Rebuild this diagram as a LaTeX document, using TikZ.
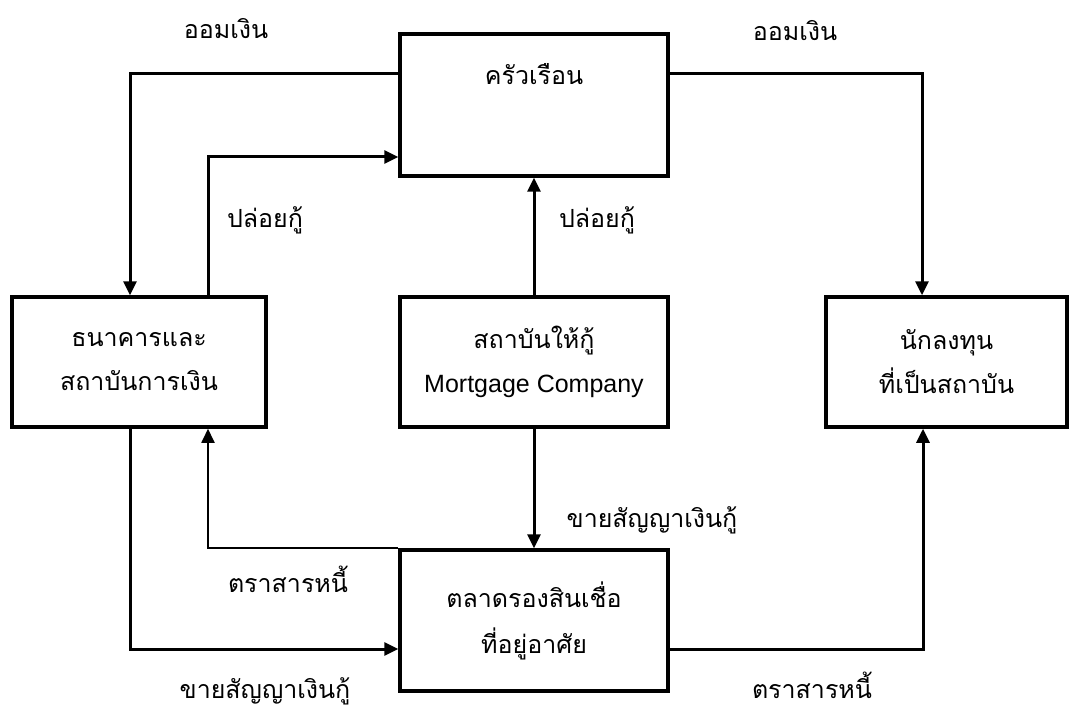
\documentclass[tikz,border=0pt]{standalone}
\usepackage{fontspec}
\setmainfont{Liberation Sans}
\newfontfamily\thaifont[Script=Thai]{Loma}
\usetikzlibrary{arrows.meta}
\begin{document}
\begin{tikzpicture}[x=1pt,y=-1pt,
  box/.style={draw, line width=3.5pt, align=center, inner sep=0pt, font=\thaifont\fontsize{25}{44}\selectfont},
  conn/.style={line width=3pt, -{Triangle[length=14pt,width=13pt]}},
  thinconn/.style={line width=1.8pt, -{Triangle[length=14pt,width=13pt]}},
  lbl/.style={font=\thaifont\fontsize{25}{30}\selectfont, inner sep=0pt}]
\path[use as bounding box, fill=white] (0,0) rectangle (1075,711);
% boxes
\node[box, minimum width=268pt, minimum height=142pt] (H) at (534,105) {};
\node[lbl] (Ht) at (534,74) {ครัวเรือน};
\node[box, minimum width=254pt, minimum height=130pt] (B) at (139,362) {ธนาคารและ\\สถาบันการเงิน};
\node[box, minimum width=268pt, minimum height=130pt] (M) at (534,362) {สถาบันให้กู้\\{\normalfont Mortgage Company}};
\node[box, minimum width=241pt, minimum height=130pt] (I) at (946.5,362) {นักลงทุน\\ที่เป็นสถาบัน};
\node[box, minimum width=268pt, minimum height=141pt, font=\thaifont\fontsize{25}{46}\selectfont] (S) at (534,620.5) {ตลาดรองสินเชื่อ\\ที่อยู่อาศัย};
% connectors
\draw[conn] ([yshift=31pt]H.west) -| ([xshift=-9pt]B.north);
\draw[conn] ([xshift=69pt]B.north) |- ([yshift=-52pt]H.west);
\draw[conn] (M.north) -- (H.south);
\draw[conn] ([yshift=31pt]H.east) -| ([xshift=-24.5pt]I.north);
\draw[conn] (M.south) -- (S.north);
\draw[thinconn] (S.north west) -| ([xshift=69pt]B.south);
\draw[conn] ([xshift=-9pt]B.south) |- ([yshift=-28.5pt]S.west);
\draw[conn] ([yshift=-28.5pt]S.east) -| ([xshift=-23.5pt]I.south);
% labels
\node[lbl] (l1) at (226,29) {ออมเงิน};
\node[lbl] (l2) at (795,31) {ออมเงิน};
\node[lbl] (l3) at (265,220) {ปล่อยกู้};
\node[lbl] (l4) at (597,220) {ปล่อยกู้};
\node[lbl] (l5) at (652,520) {ขายสัญญาเงินกู้};
\node[lbl] (l6) at (288,579) {ตราสารหนี้};
\node[lbl, anchor=base] (l7) at (265,698) {ขายสัญญาเงินกู้};
\node[lbl, anchor=base] (l8) at (812,698) {ตราสารหนี้};
\end{tikzpicture}
\end{document}
